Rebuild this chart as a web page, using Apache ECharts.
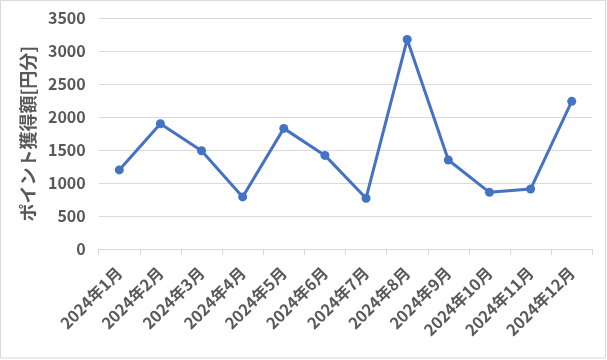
<!DOCTYPE html>
<html>
<head>
<meta charset="utf-8">
<script src="https://cdn.jsdelivr.net/npm/echarts@6/dist/echarts.min.js"></script>
<style>
html,body{margin:0;padding:0;background:#fff;}
#c{width:607px;height:360px;}
</style>
</head>
<body>
<div id="c"></div>
<script>
const categories = ['2024年1月','2024年2月','2024年3月','2024年4月','2024年5月','2024年6月','2024年7月','2024年8月','2024年9月','2024年10月','2024年11月','2024年12月'];
const pointValues = [1200, 1900, 1490, 790, 1830, 1420, 770, 3180, 1350, 860, 910, 2240];
const yAxisName = 'ポイント獲得額[円分]';

const chart = echarts.init(document.getElementById('c'), null, {renderer:'canvas'});
const font = '"Noto Sans CJK JP", "Noto Sans", sans-serif';
chart.setOption({
  animation: false,
  backgroundColor: '#fff',
  graphic: [{
    type: 'rect',
    shape: {x: 0.5, y: 0.5, width: 605, height: 357.5},
    style: {fill: 'none', stroke: '#d9d9d9', lineWidth: 1},
    silent: true
  }],
  grid: {left: 98.7, right: 14.7, top: 18.3, bottom: 111, containLabel: false},
  xAxis: {
    type: 'category',
    data: categories,
    boundaryGap: true,
    axisLine: {show: true, lineStyle: {color: '#d9d9d9', width: 1}},
    axisTick: {show: true, alignWithLabel: false, length: 6, lineStyle: {color: '#d9d9d9'}},
    axisLabel: {
      interval: 0, rotate: 45, margin: 21,
      color: '#595959', fontSize: 16, fontWeight: 'bold', fontFamily: font
    },
    splitLine: {show: false}
  },
  yAxis: {
    type: 'value',
    min: 0, max: 3500, interval: 500,
    name: yAxisName,
    nameLocation: 'middle',
    nameGap: 62,
    nameRotate: 90,
    nameTextStyle: {color: '#595959', fontSize: 18, fontWeight: 'bold', fontFamily: font},
    axisLine: {show: false},
    axisTick: {show: false},
    axisLabel: {color: '#595959', fontSize: 16, fontWeight: 'bold', fontFamily: font, margin: 13,
      formatter: function (v) { return String(v); }},
    splitLine: {show: true, lineStyle: {color: '#d9d9d9', width: 1}}
  },
  series: [{
    type: 'line',
    data: pointValues,
    symbol: 'circle',
    symbolSize: 9,
    lineStyle: {color: '#4472C4', width: 3},
    itemStyle: {color: '#4472C4'}
  }]
});
</script>
</body>
</html>
